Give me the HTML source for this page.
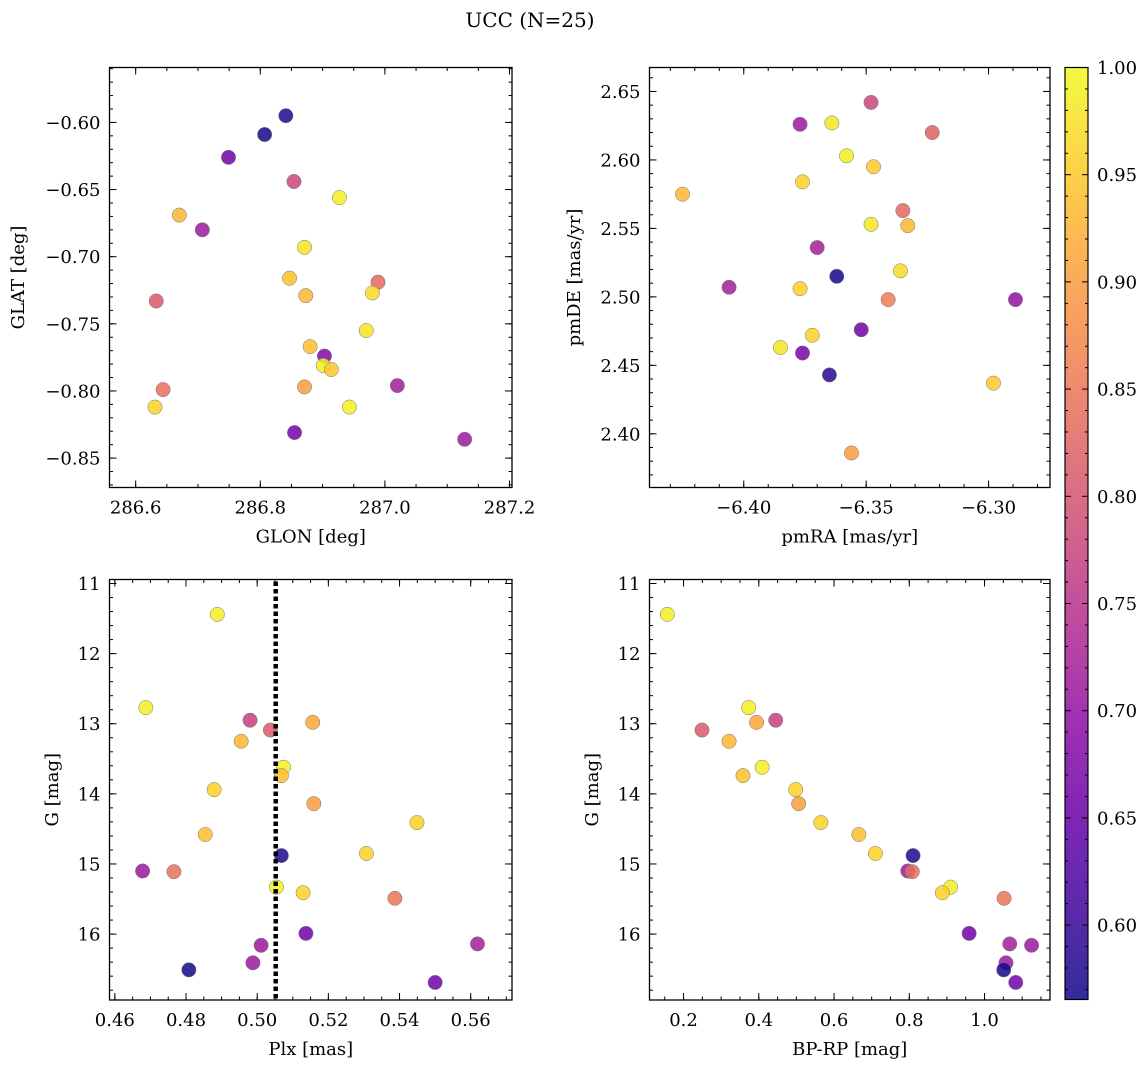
<!DOCTYPE html>
<html><head><meta charset="utf-8"><style>
html,body{margin:0;padding:0;background:#fff;}
svg{display:block;font-family:"DejaVu Serif","Liberation Serif",serif;}
</style></head><body>
<svg id="fig" width="1148" height="1067" viewBox="0 0 1148 1067" xmlns="http://www.w3.org/2000/svg">
<text x="530" y="27" text-anchor="middle" font-size="20">UCC (N=25)</text>
</svg>
<script>
// ---- data ----
const glon = [286.841,286.807,286.749,286.854,286.927,286.670,286.707,286.871,286.847,286.989,286.873,286.980,286.633,286.970,286.880,286.903,286.901,286.914,286.871,287.020,286.644,286.631,286.943,286.855,287.128];
const glat = [-0.595,-0.609,-0.626,-0.644,-0.656,-0.669,-0.680,-0.693,-0.716,-0.719,-0.729,-0.727,-0.733,-0.755,-0.767,-0.774,-0.781,-0.784,-0.797,-0.796,-0.799,-0.812,-0.812,-0.831,-0.836];
const probPos = [0.58,0.57,0.66,0.78,0.99,0.93,0.71,0.98,0.94,0.83,0.93,0.97,0.81,0.98,0.94,0.68,0.99,0.95,0.90,0.72,0.84,0.96,0.99,0.66,0.71];

const pmra = [-6.348,-6.377,-6.364,-6.323,-6.358,-6.347,-6.376,-6.425,-6.335,-6.348,-6.333,-6.370,-6.336,-6.362,-6.406,-6.377,-6.341,-6.289,-6.352,-6.372,-6.385,-6.376,-6.365,-6.298,-6.356];
const pmde = [2.642,2.626,2.627,2.620,2.603,2.595,2.584,2.575,2.563,2.553,2.552,2.536,2.519,2.515,2.507,2.506,2.498,2.498,2.476,2.472,2.463,2.459,2.443,2.437,2.386];
const probPm = [0.78,0.71,0.98,0.82,0.99,0.95,0.96,0.93,0.83,0.98,0.93,0.72,0.97,0.57,0.72,0.96,0.86,0.70,0.66,0.96,0.98,0.67,0.59,0.95,0.90];

const plx  = [0.4888,0.4687,0.4980,0.5156,0.5037,0.4955,0.5074,0.5068,0.4879,0.5159,0.5449,0.4854,0.5307,0.5068,0.4678,0.4766,0.5054,0.5129,0.5387,0.5137,0.5619,0.5011,0.4988,0.4808,0.5500];
const gmag = [11.44,12.77,12.95,12.98,13.09,13.25,13.62,13.74,13.94,14.14,14.41,14.58,14.85,14.88,15.10,15.11,15.33,15.41,15.49,15.99,16.14,16.16,16.41,16.51,16.69];
const bprp = [0.157,0.373,0.445,0.394,0.249,0.321,0.409,0.358,0.498,0.506,0.565,0.666,0.710,0.810,0.796,0.808,0.910,0.888,1.052,0.959,1.067,1.125,1.057,1.051,1.083];
const probPh = [0.99,0.99,0.77,0.91,0.81,0.93,0.99,0.94,0.96,0.90,0.96,0.94,0.96,0.58,0.71,0.84,0.99,0.96,0.85,0.66,0.72,0.71,0.71,0.57,0.66];
const plxMedian = [0.5052];

const ticksGlon = [286.6,286.8,287.0,287.2];
const ticksGlat = [-0.60,-0.65,-0.70,-0.75,-0.80,-0.85];
const ticksPmra = [-6.40,-6.35,-6.30];
const ticksPmde = [2.40,2.45,2.50,2.55,2.60,2.65];
const ticksPlx = [0.46,0.48,0.50,0.52,0.54,0.56];
const ticksG = [11,12,13,14,15,16];
const ticksBprp = [0.2,0.4,0.6,0.8,1.0];
const ticksCbar = [0.60,0.65,0.70,0.75,0.80,0.85,0.90,0.95,1.00];
const cRange = [0.5653,1.0];

const NS='http://www.w3.org/2000/svg';
const svg=document.getElementById('fig');
function el(tag,attrs,parent){const e=document.createElementNS(NS,tag);for(const k in attrs)e.setAttribute(k,attrs[k]);(parent||svg).appendChild(e);return e;}

const plasma=[[13,8,135],[65,4,157],[106,0,168],[143,13,164],[177,42,144],[204,71,120],[225,100,98],[242,132,75],[252,166,54],[252,206,37],[240,249,33]];
function cmap(v){let t=(v-cRange[0])/(cRange[1]-cRange[0]);t=Math.max(0,Math.min(1,t));const p=t*10,i=Math.min(9,Math.floor(p)),f=p-i;const a=plasma[i],b=plasma[i+1];return 'rgb('+a.map((x,k)=>Math.round(x+(b[k]-x)*f)).join(',')+')';}
function fmt(v,d){const s=Math.abs(v).toFixed(d);return (v<0?'\u2212':'')+s;}

const TFS=18, LFS=18;
function panel(o){
  const g=el('g',{});
  
  
  const sx=v=>o.x0+(v-o.xd[0])/(o.xd[1]-o.xd[0])*(o.x1-o.x0);
  const sy=o.inv? v=>o.y0+(v-o.yd[0])/(o.yd[1]-o.yd[0])*(o.y1-o.y0)
                 : v=>o.y1-(v-o.yd[0])/(o.yd[1]-o.yd[0])*(o.y1-o.y0);
  function minors(dmin,dmax,step){const r=[];let s=Math.ceil(dmin/step-1e-6);for(let v=s*step;v<=dmax+1e-9;v=(++s)*step)r.push(v);return r;}
  const tg=el('g',{stroke:'#000','stroke-width':1},g);
  minors(o.xd[0],o.xd[1],o.xminor).forEach(v=>{const x=sx(v);el('line',{x1:x,x2:x,y1:o.y1,y2:o.y1-3.5},tg);el('line',{x1:x,x2:x,y1:o.y0,y2:o.y0+3.5},tg);});
  minors(Math.min(...o.yd),Math.max(...o.yd),o.yminor).forEach(v=>{const y=sy(v);el('line',{x1:o.x0,x2:o.x0+3.5,y1:y,y2:y},tg);el('line',{x1:o.x1,x2:o.x1-3.5,y1:y,y2:y},tg);});
  o.xt.forEach(v=>{const x=sx(v);el('line',{x1:x,x2:x,y1:o.y1,y2:o.y1-7},tg);el('line',{x1:x,x2:x,y1:o.y0,y2:o.y0+7},tg);
    const t=el('text',{x:x,y:o.y1+26,'text-anchor':'middle','font-size':TFS},g);t.textContent=fmt(v,o.xdec);
    
    });
  o.yt.forEach(v=>{const y=sy(v);el('line',{x1:o.x0,x2:o.x0+7,y1:y,y2:y},tg);el('line',{x1:o.x1,x2:o.x1-7,y1:y,y2:y},tg);
    const t=el('text',{x:o.x0-9,y:y+6.5,'text-anchor':'end','font-size':TFS},g);t.textContent=fmt(v,o.ydec);
    
    });
  const pg=el('g',{},g);
  for(let i=0;i<o.xs.length;i++){
    const c=el('circle',{cx:sx(o.xs[i]),cy:sy(o.ys[i]),r:7.2,fill:cmap(o.cs[i]),'fill-opacity':0.85,stroke:'#777','stroke-width':0.5},pg);
    
    
  }
  if(o.vline){o.vline.forEach(v=>{const l=el('line',{x1:sx(v),x2:sx(v),y1:o.y0+2,y2:o.y1,stroke:'#000','stroke-width':4.5,'stroke-dasharray':'4.5 3'},g);
    
    });}
  const fr=el('rect',{x:o.x0,y:o.y0,width:o.x1-o.x0,height:o.y1-o.y0,fill:'none',stroke:'#000','stroke-width':1.3},g);
  
  
  const xl=el('text',{x:(o.x0+o.x1)/2,y:o.y1+55,'text-anchor':'middle','font-size':LFS},g);xl.textContent=o.xlab;
  
  
  const yx=o.ylx,yy=(o.y0+o.y1)/2;
  const yl=el('text',{x:yx,y:yy,'text-anchor':'middle','font-size':LFS,transform:'rotate(-90 '+yx+' '+yy+')'},g);yl.textContent=o.ylab;
  
  
}

panel({name:'glon-glat-panel',x0:109.5,x1:512,y0:67.5,y1:487.5,xd:[286.558,287.204],yd:[-0.5591,-0.8719],inv:true,
  xs:glon,ys:glat,cs:probPos,xt:ticksGlon,yt:ticksGlat,xdec:1,ydec:2,xminor:0.05,yminor:0.01,xlab:'GLON [deg]',ylab:'GLAT [deg]',ylx:24});
panel({name:'pm-panel',x0:649.5,x1:1050,y0:67.5,y1:487.5,xd:[-6.4385,-6.2749],yd:[2.3608,2.6675],
  xs:pmra,ys:pmde,cs:probPm,xt:ticksPmra,yt:ticksPmde,xdec:2,ydec:2,xminor:0.01,yminor:0.01,xlab:'pmRA [mas/yr]',ylab:'pmDE [mas/yr]',ylx:580});
panel({name:'plx-g-panel',x0:109.5,x1:512,y0:579.5,y1:1000,xd:[0.4585,0.5716],yd:[10.943,16.94],inv:true,
  xs:plx,ys:gmag,cs:probPh,xt:ticksPlx,yt:ticksG,xdec:2,ydec:0,xminor:0.005,yminor:0.2,xlab:'Plx [mas]',ylab:'G [mag]',ylx:58,vline:plxMedian});
panel({name:'cmd-panel',x0:649.5,x1:1050,y0:579.5,y1:1000,xd:[0.1095,1.174],yd:[10.943,16.94],inv:true,
  xs:bprp,ys:gmag,cs:probPh,xt:ticksBprp,yt:ticksG,xdec:1,ydec:0,xminor:0.05,yminor:0.2,xlab:'BP-RP [mag]',ylab:'G [mag]',ylx:598});

(function(){
  const x0=1065,x1=1088,y0=67.5,y1=999.5;
  const defs=el('defs',{});
  const lg=el('linearGradient',{id:'cbg',x1:0,y1:1,x2:0,y2:0},defs);
  for(let i=0;i<=20;i++){const v=cRange[0]+(cRange[1]-cRange[0])*i/20;el('stop',{offset:(i/20),'stop-color':cmap(v)},lg);}
  const g=el('g',{});
  
  
  el('rect',{x:x0,y:y0,width:x1-x0,height:y1-y0,fill:'url(#cbg)','fill-opacity':0.85},g);
  const sy=v=>y1-(v-cRange[0])/(cRange[1]-cRange[0])*(y1-y0);
  for(let k=57;k<=100;k++){const v=k/100;const y=sy(v);const maj=(k%5===0);
    el('line',{x1:x1,x2:x1-(maj?6:3),y1:y,y2:y,stroke:'#000','stroke-width':1},g);
    el('line',{x1:x0,x2:x0+(maj?6:3),y1:y,y2:y,stroke:'#000','stroke-width':1},g);}
  ticksCbar.forEach(v=>{const t=el('text',{x:x1+9,y:sy(v)+6.5,'font-size':TFS},g);t.textContent=v.toFixed(2);
    
    });
  el('rect',{x:x0,y:y0,width:x1-x0,height:y1-y0,fill:'none',stroke:'#000','stroke-width':1.2},g);
})();
</script>
</body></html>
